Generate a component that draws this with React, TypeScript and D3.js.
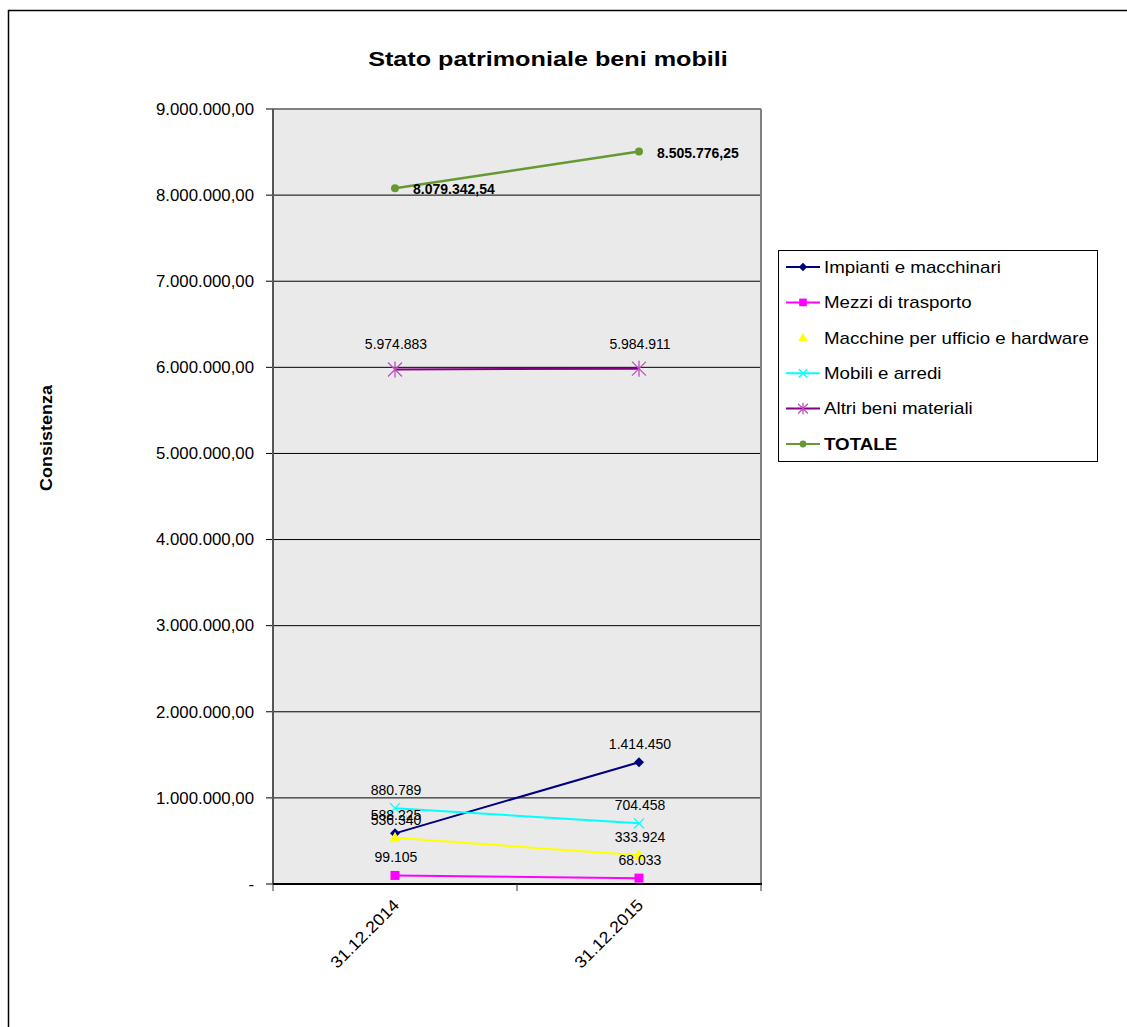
import React from "react";
import * as d3 from "d3";

const categories = ["31.12.2014", "31.12.2015"];
const seriesNames = [
  "Impianti e macchinari",
  "Mezzi di trasporto",
  "Macchine per ufficio e hardware",
  "Mobili e arredi",
  "Altri beni materiali",
  "TOTALE",
];
const impianti = [588225, 1414450];
const mezzi = [99105, 68033];
const macchine = [536340, 333924];
const mobili = [880789, 704458];
const altri = [5974883, 5984911];
const totale = [8079342.54, 8505776.25];
const yTicks = [0, 1e6, 2e6, 3e6, 4e6, 5e6, 6e6, 7e6, 8e6, 9e6];

const seriesValues = [impianti, mezzi, macchine, mobili, altri, totale];
const colors = ["#000080", "#FF00FF", "#FFFF00", "#00FFFF", "#800080", "#669933"];
const markerColors = ["#000080", "#FF00FF", "#FFFF00", "#00FFFF", "#C050C0", "#669933"];
const markerTypes = ["diamond", "square", "triangle", "x", "star", "circle"];
const legendLine = [true, true, false, true, true, true];

const locale = d3.formatLocale({ decimal: ",", thousands: ".", grouping: [3], currency: ["€", ""] });
const fmt2 = locale.format(",.2f");
const fmt0 = locale.format(",.0f");

const FONT = "'Liberation Sans', Arial, sans-serif";

function Marker({ type, x, y, color, s = 1 }: { type: string; x: number; y: number; color: string; s?: number }) {
  switch (type) {
    case "diamond":
      return <path d={`M${x},${y - 5 * s}L${x + 5 * s},${y}L${x},${y + 5 * s}L${x - 5 * s},${y}Z`} fill={color} />;
    case "square":
      return <rect x={x - 4.5 * s} y={y - 4.5 * s} width={9 * s} height={9 * s} fill={color} />;
    case "triangle":
      return <path d={`M${x},${y - 6 * s}L${x + 5.5 * s},${y + 4 * s}L${x - 5.5 * s},${y + 4 * s}Z`} fill={color} />;
    case "x": {
      const r = 5 * s;
      return <path d={`M${x - r},${y - r}L${x + r},${y + r}M${x - r},${y + r}L${x + r},${y - r}`} stroke={color} strokeWidth={1.3} />;
    }
    case "star": {
      const r = 7 * s;
      return (
        <path
          d={`M${x - r},${y - r}L${x + r},${y + r}M${x - r},${y + r}L${x + r},${y - r}M${x},${y - r - 1}L${x},${y + r + 1}`}
          stroke={color}
          strokeWidth={1.3}
        />
      );
    }
    case "circle":
      return <circle cx={x} cy={y} r={4 * s} fill={color} />;
  }
  return null;
}

export default function App() {
  const W = 1127;
  const H = 1027;
  const left = 273;
  const right = 761;
  const top = 109;
  const bottom = 884;

  const x = d3.scaleBand<string>().domain(categories).range([left, right]).padding(0);
  const cx = (c: string) => (x(c) as number) + x.bandwidth() / 2;
  const y = d3.scaleLinear().domain([0, 9e6]).range([bottom, top]);
  const line = d3
    .line<number>()
    .x((_, i) => cx(categories[i]))
    .y((d) => y(d));

  const legendX = 778;
  const legendY = 250;
  const legendW = 319;
  const legendH = 211;
  const legendStep = 35.4;

  return (
    <svg width={W} height={H} style={{ position: "absolute", left: 0, top: 0, background: "#fff" }} fontFamily={FONT}>
      <rect x={8.5} y={10.5} width={1300} height={1300} fill="#fff" stroke="#000" strokeWidth={1.5} />
      <text transform={`translate(548,66) scale(1.2,1)`} textAnchor="middle" fontSize={21} fontWeight="bold">
        Stato patrimoniale beni mobili
      </text>
      <text transform={`translate(52,438) rotate(-90) scale(1.09,1)`} textAnchor="middle" fontSize={16.5} fontWeight="bold">
        Consistenza
      </text>

      {/* plot area */}
      <rect x={left} y={top} width={right - left} height={bottom - top} fill="#EAEAEA" />
      {yTicks.map((t) => (
        <g key={t}>
          {t > 0 && t < 9e6 && <line x1={left} x2={right} y1={y(t)} y2={y(t)} stroke="#000" strokeWidth={1} />}
          <line x1={left - 7} x2={left} y1={y(t)} y2={y(t)} stroke="#000" strokeWidth={1} />
          <text transform={`translate(254,${y(t)}) scale(1.05,1)`} dy="0.36em" textAnchor="end" fontSize={16}>
            {t === 0 ? "-" : fmt2(t)}
          </text>
        </g>
      ))}
      <line x1={left} x2={right} y1={top} y2={top} stroke="#808080" strokeWidth={2} />
      <line x1={right} x2={right} y1={top} y2={bottom} stroke="#808080" strokeWidth={2} />
      <line x1={left} x2={left} y1={top} y2={bottom} stroke="#555" strokeWidth={2} />
      <line x1={left} x2={right + 1} y1={bottom} y2={bottom} stroke="#000" strokeWidth={2} />
      {[left, left + x.bandwidth(), right].map((tx, i) => (
        <line key={i} x1={tx} x2={tx} y1={bottom} y2={bottom + 7} stroke="#333" strokeWidth={1} />
      ))}
      {categories.map((c) => (
        <text
          key={c}
          transform={`translate(${cx(c) - 3},${bottom + 14}) rotate(-45) scale(1.08,1)`}
          textAnchor="end"
          dy="0.7em"
          fontSize={16.5}
        >
          {c}
        </text>
      ))}

      {/* series */}
      {seriesValues.map((vals, si) => (
        <g key={si}>
          <path d={line(vals) as string} fill="none" stroke={colors[si]} strokeWidth={si === 5 ? 2.5 : 2} />
          {vals.map((v, i) => (
            <Marker key={i} type={markerTypes[si]} x={cx(categories[i])} y={y(v)} color={markerColors[si]} />
          ))}
        </g>
      ))}

      {/* data labels */}
      {seriesValues.map((vals, si) =>
        vals.map((v, i) => {
          const px = cx(categories[i]);
          const py = y(v);
          if (si === 5) {
            return (
              <text key={`${si}-${i}`} x={px + 18} y={py + 6} fontSize={14} fontWeight="bold">
                {fmt2(v)}
              </text>
            );
          }
          const off = si === 4 ? 20 : 13;
          return (
            <text key={`${si}-${i}`} x={px + 1} y={py - off} textAnchor="middle" fontSize={14}>
              {fmt0(v)}
            </text>
          );
        })
      )}

      {/* legend */}
      <rect x={legendX + 0.5} y={legendY + 0.5} width={legendW} height={legendH} fill="#fff" stroke="#000" strokeWidth={1} />
      {seriesNames.map((name, si) => {
        const ly = legendY + 17 + si * legendStep;
        return (
          <g key={name}>
            {legendLine[si] && <line x1={786} x2={820} y1={ly} y2={ly} stroke={colors[si]} strokeWidth={2} />}
            <Marker type={markerTypes[si]} x={803} y={ly} color={markerColors[si]} s={si === 4 ? 0.7 : 0.85} />
            <text
              transform={`translate(824,${ly}) scale(1.17,1)`}
              dy="0.36em"
              fontSize={16}
              fontWeight={si === 5 ? "bold" : "normal"}
            >
              {name}
            </text>
          </g>
        );
      })}
    </svg>
  );
}
